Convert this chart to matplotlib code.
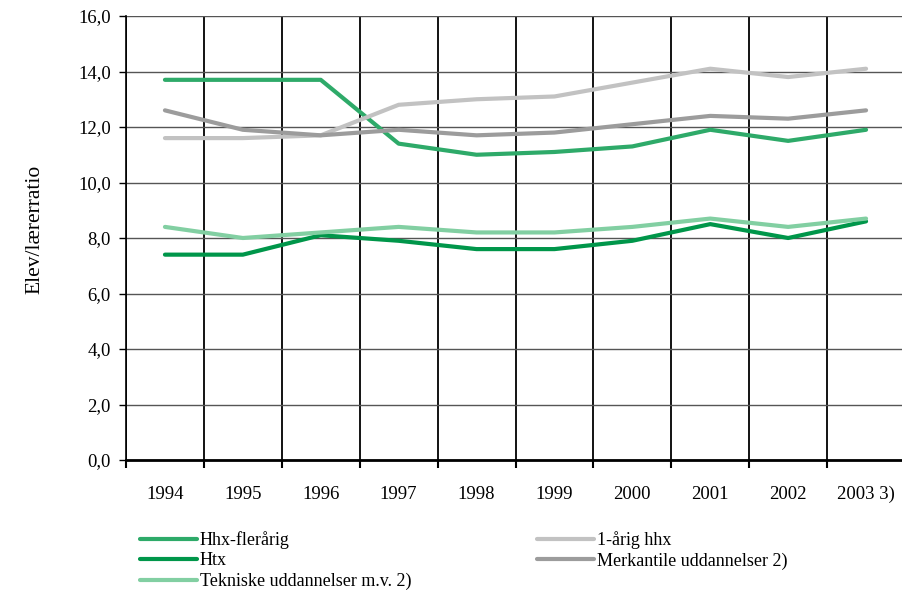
import matplotlib
matplotlib.use("Agg")
import matplotlib.pyplot as plt
from matplotlib.ticker import MultipleLocator, FixedLocator, NullFormatter

# data
years = ["1994", "1995", "1996", "1997", "1998", "1999", "2000", "2001", "2002", "2003 3)"]
hhx_flerarig = [13.7, 13.7, 13.7, 11.4, 11.0, 11.1, 11.3, 11.9, 11.5, 11.9]
htx = [7.4, 7.4, 8.1, 7.9, 7.6, 7.6, 7.9, 8.5, 8.0, 8.6]
tekniske = [8.4, 8.0, 8.2, 8.4, 8.2, 8.2, 8.4, 8.7, 8.4, 8.7]
hhx_1arig = [11.6, 11.6, 11.7, 12.8, 13.0, 13.1, 13.6, 14.1, 13.8, 14.1]
merkantile = [12.6, 11.9, 11.7, 11.9, 11.7, 11.8, 12.1, 12.4, 12.3, 12.6]

plt.rcParams['font.family'] = ['Liberation Serif', 'DejaVu Serif']

fig = plt.figure(figsize=(9.02, 5.90), dpi=100)
W, H = 902, 590
ax = fig.add_axes([126 / W, 130 / H, 779 / W, 444 / H])

x = list(range(len(years)))
lw = 3.0
l1, = ax.plot(x, hhx_flerarig, color='#2eaa69', lw=lw, label='Hhx-flerårig', solid_capstyle='round')
l2, = ax.plot(x, htx, color='#00964a', lw=lw, label='Htx', solid_capstyle='round')
l3, = ax.plot(x, tekniske, color='#82cfa2', lw=lw, label='Tekniske uddannelser m.v. 2)', solid_capstyle='round')
l4, = ax.plot(x, hhx_1arig, color='#c2c2c2', lw=lw, label='1-årig hhx', solid_capstyle='round')
l5, = ax.plot(x, merkantile, color='#9c9c9c', lw=lw, label='Merkantile uddannelser 2)', solid_capstyle='round')

ax.set_xlim(-0.5, len(years) - 0.5)
ax.set_ylim(0, 16)
ax.yaxis.set_major_locator(MultipleLocator(2))
ax.set_yticklabels([f"{v:.1f}".replace('.', ',') for v in ax.get_yticks()])

# category ticks between the years, labels at the centres
ax.xaxis.set_major_locator(FixedLocator([i + 0.5 for i in range(-1, len(years))]))
ax.xaxis.set_major_formatter(NullFormatter())
ax.xaxis.set_minor_locator(FixedLocator(x))
ax.set_xticklabels(years, minor=True)
ax.tick_params(axis='x', which='minor', length=0, pad=28, labelsize=13.5)
for lab in ax.get_xticklabels(minor=True):
    lab.set_va('baseline')
ax.tick_params(axis='x', which='major', length=6, width=1.5, direction='out', color='black')
ax.tick_params(axis='y', length=5, width=1, direction='out', labelsize=13.5, pad=6)

ax.grid(True, axis='x', which='major', color='black', lw=1.3)
ax.grid(True, axis='y', which='major', color='#555555', lw=1.0)
ax.set_axisbelow(True)

for s in ['top', 'right']:
    ax.spines[s].set_visible(False)
ax.spines['bottom'].set_linewidth(2)
ax.spines['left'].set_linewidth(1.2)

ax.set_ylabel('Elev/lærerratio', fontsize=15.5)
ax.yaxis.set_label_coords(-0.105, 0.52)

leg_kw = dict(loc='upper left', frameon=False, fontsize=13, handlelength=3.15,
              handletextpad=0.15, labelspacing=0.2, borderaxespad=0, borderpad=0)
fig.legend(handles=[l1, l2, l3], bbox_to_anchor=(140 / W, 1 - 531 / H), **leg_kw)
fig.legend(handles=[l4, l5], bbox_to_anchor=(537 / W, 1 - 531 / H), **leg_kw)

fig.savefig('out.png', dpi=100)
